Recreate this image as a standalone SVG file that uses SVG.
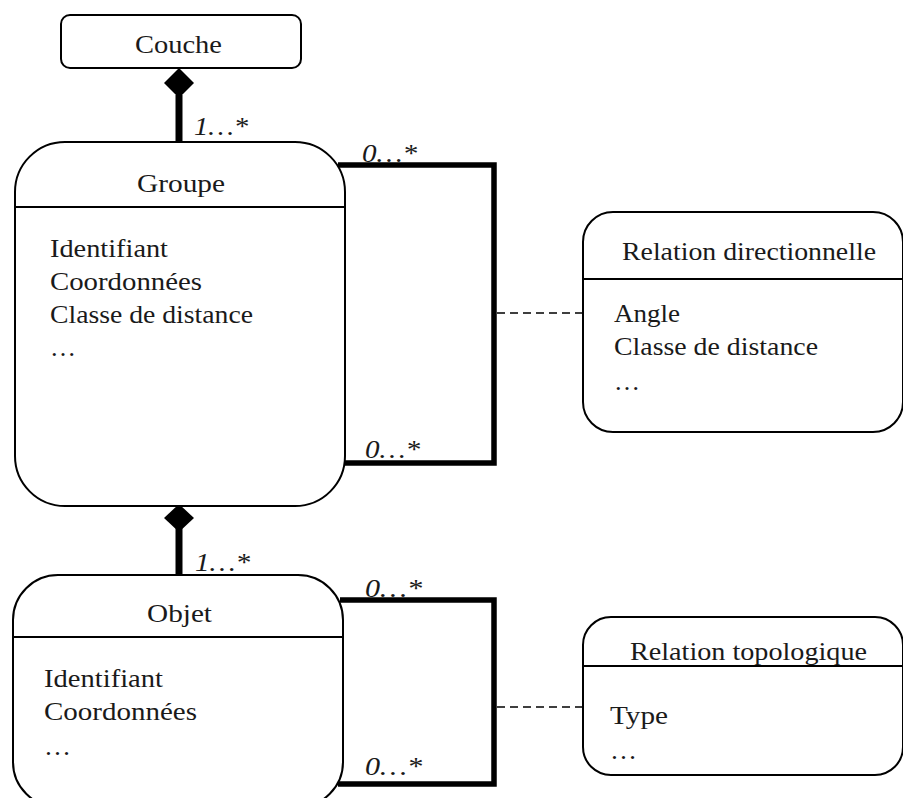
<svg xmlns="http://www.w3.org/2000/svg" width="903" height="798" viewBox="0 0 903 798">
<style>
.box{fill:#fff;stroke:#000;stroke-width:2}
.div{stroke:#000;stroke-width:2}
.t{font-family:"Liberation Serif","Times New Roman",serif;font-size:26px;fill:#1a1a1a}
.m{font-family:"Liberation Serif","Times New Roman",serif;font-size:26px;font-style:italic;fill:#1a1a1a}
.thick{fill:none;stroke:#000;stroke-width:5.5;stroke-linecap:butt;stroke-linejoin:miter}
.comp{stroke:#000;stroke-width:7}
.dash{stroke:#000;stroke-width:1.6;stroke-dasharray:8 5}
</style>
<rect width="903" height="798" fill="#fff"/>
<g id="connectors">
  <line class="comp" x1="179" y1="95" x2="179" y2="142"/>
  <polygon points="179,68 194,83 179,98 164,83" fill="#000"/>
  <line class="comp" x1="179" y1="528" x2="179" y2="575"/>
  <polygon points="179,504 194,518 179,532 164,518" fill="#000"/>
  <polyline class="thick" points="338,165 494,165 494,463 343,463"/>
  <polyline class="thick" points="340,600 494,600 494,784 338,784"/>
  <line class="dash" x1="497" y1="313" x2="583" y2="313"/>
  <line class="dash" x1="497" y1="707" x2="583" y2="707"/>
  <text class="m" x="194" y="135" textLength="54" lengthAdjust="spacingAndGlyphs">1…*</text>
  <text class="m" x="195" y="571" textLength="55" lengthAdjust="spacingAndGlyphs">1…*</text>
  <text class="m" x="362" y="162" textLength="55" lengthAdjust="spacingAndGlyphs">0…*</text>
  <text class="m" x="365" y="458" textLength="55" lengthAdjust="spacingAndGlyphs">0…*</text>
  <text class="m" x="365" y="597" textLength="57" lengthAdjust="spacingAndGlyphs">0…*</text>
  <text class="m" x="365" y="775" textLength="57" lengthAdjust="spacingAndGlyphs">0…*</text>
</g>
<g id="couche">
  <rect class="box" x="61" y="15" width="240" height="53" rx="9"/>
  <text class="t" x="135" y="53" textLength="87" lengthAdjust="spacingAndGlyphs">Couche</text>
</g>
<g id="groupe">
  <rect class="box" x="15" y="142" width="330" height="364" rx="50"/>
  <line class="div" x1="15" y1="207" x2="345" y2="207"/>
  <text class="t" x="137" y="192" textLength="88" lengthAdjust="spacingAndGlyphs">Groupe</text>
  <text class="t" x="50" y="257" textLength="118" lengthAdjust="spacingAndGlyphs">Identifiant</text>
  <text class="t" x="50" y="290" textLength="152" lengthAdjust="spacingAndGlyphs">Coordonnées</text>
  <text class="t" x="50" y="323" textLength="203" lengthAdjust="spacingAndGlyphs">Classe de distance</text>
  <text class="t" x="50" y="356" textLength="26" lengthAdjust="spacingAndGlyphs">…</text>
</g>
<g id="relation-directionnelle">
  <rect class="box" x="583" y="212" width="320" height="220" rx="30"/>
  <line class="div" x1="583" y1="279" x2="903" y2="279"/>
  <text class="t" x="622" y="260" textLength="254" lengthAdjust="spacingAndGlyphs">Relation directionnelle</text>
  <text class="t" x="614" y="322" textLength="66" lengthAdjust="spacingAndGlyphs">Angle</text>
  <text class="t" x="614" y="355" textLength="204" lengthAdjust="spacingAndGlyphs">Classe de distance</text>
  <text class="t" x="614" y="390" textLength="26" lengthAdjust="spacingAndGlyphs">…</text>
</g>
<g id="objet">
  <rect class="box" x="13" y="575" width="330" height="232" rx="45"/>
  <line class="div" x1="13" y1="637" x2="343" y2="637"/>
  <text class="t" x="147" y="622" textLength="65" lengthAdjust="spacingAndGlyphs">Objet</text>
  <text class="t" x="44" y="687" textLength="119" lengthAdjust="spacingAndGlyphs">Identifiant</text>
  <text class="t" x="44" y="720" textLength="153" lengthAdjust="spacingAndGlyphs">Coordonnées</text>
  <text class="t" x="44" y="755" textLength="27" lengthAdjust="spacingAndGlyphs">…</text>
</g>
<g id="relation-topologique">
  <rect class="box" x="583" y="617" width="320" height="158" rx="28"/>
  <line class="div" x1="583" y1="666" x2="903" y2="666"/>
  <text class="t" x="630" y="660" textLength="237" lengthAdjust="spacingAndGlyphs">Relation topologique</text>
  <text class="t" x="610" y="724" textLength="58" lengthAdjust="spacingAndGlyphs">Type</text>
  <text class="t" x="610" y="759" textLength="27" lengthAdjust="spacingAndGlyphs">…</text>
</g>
</svg>
